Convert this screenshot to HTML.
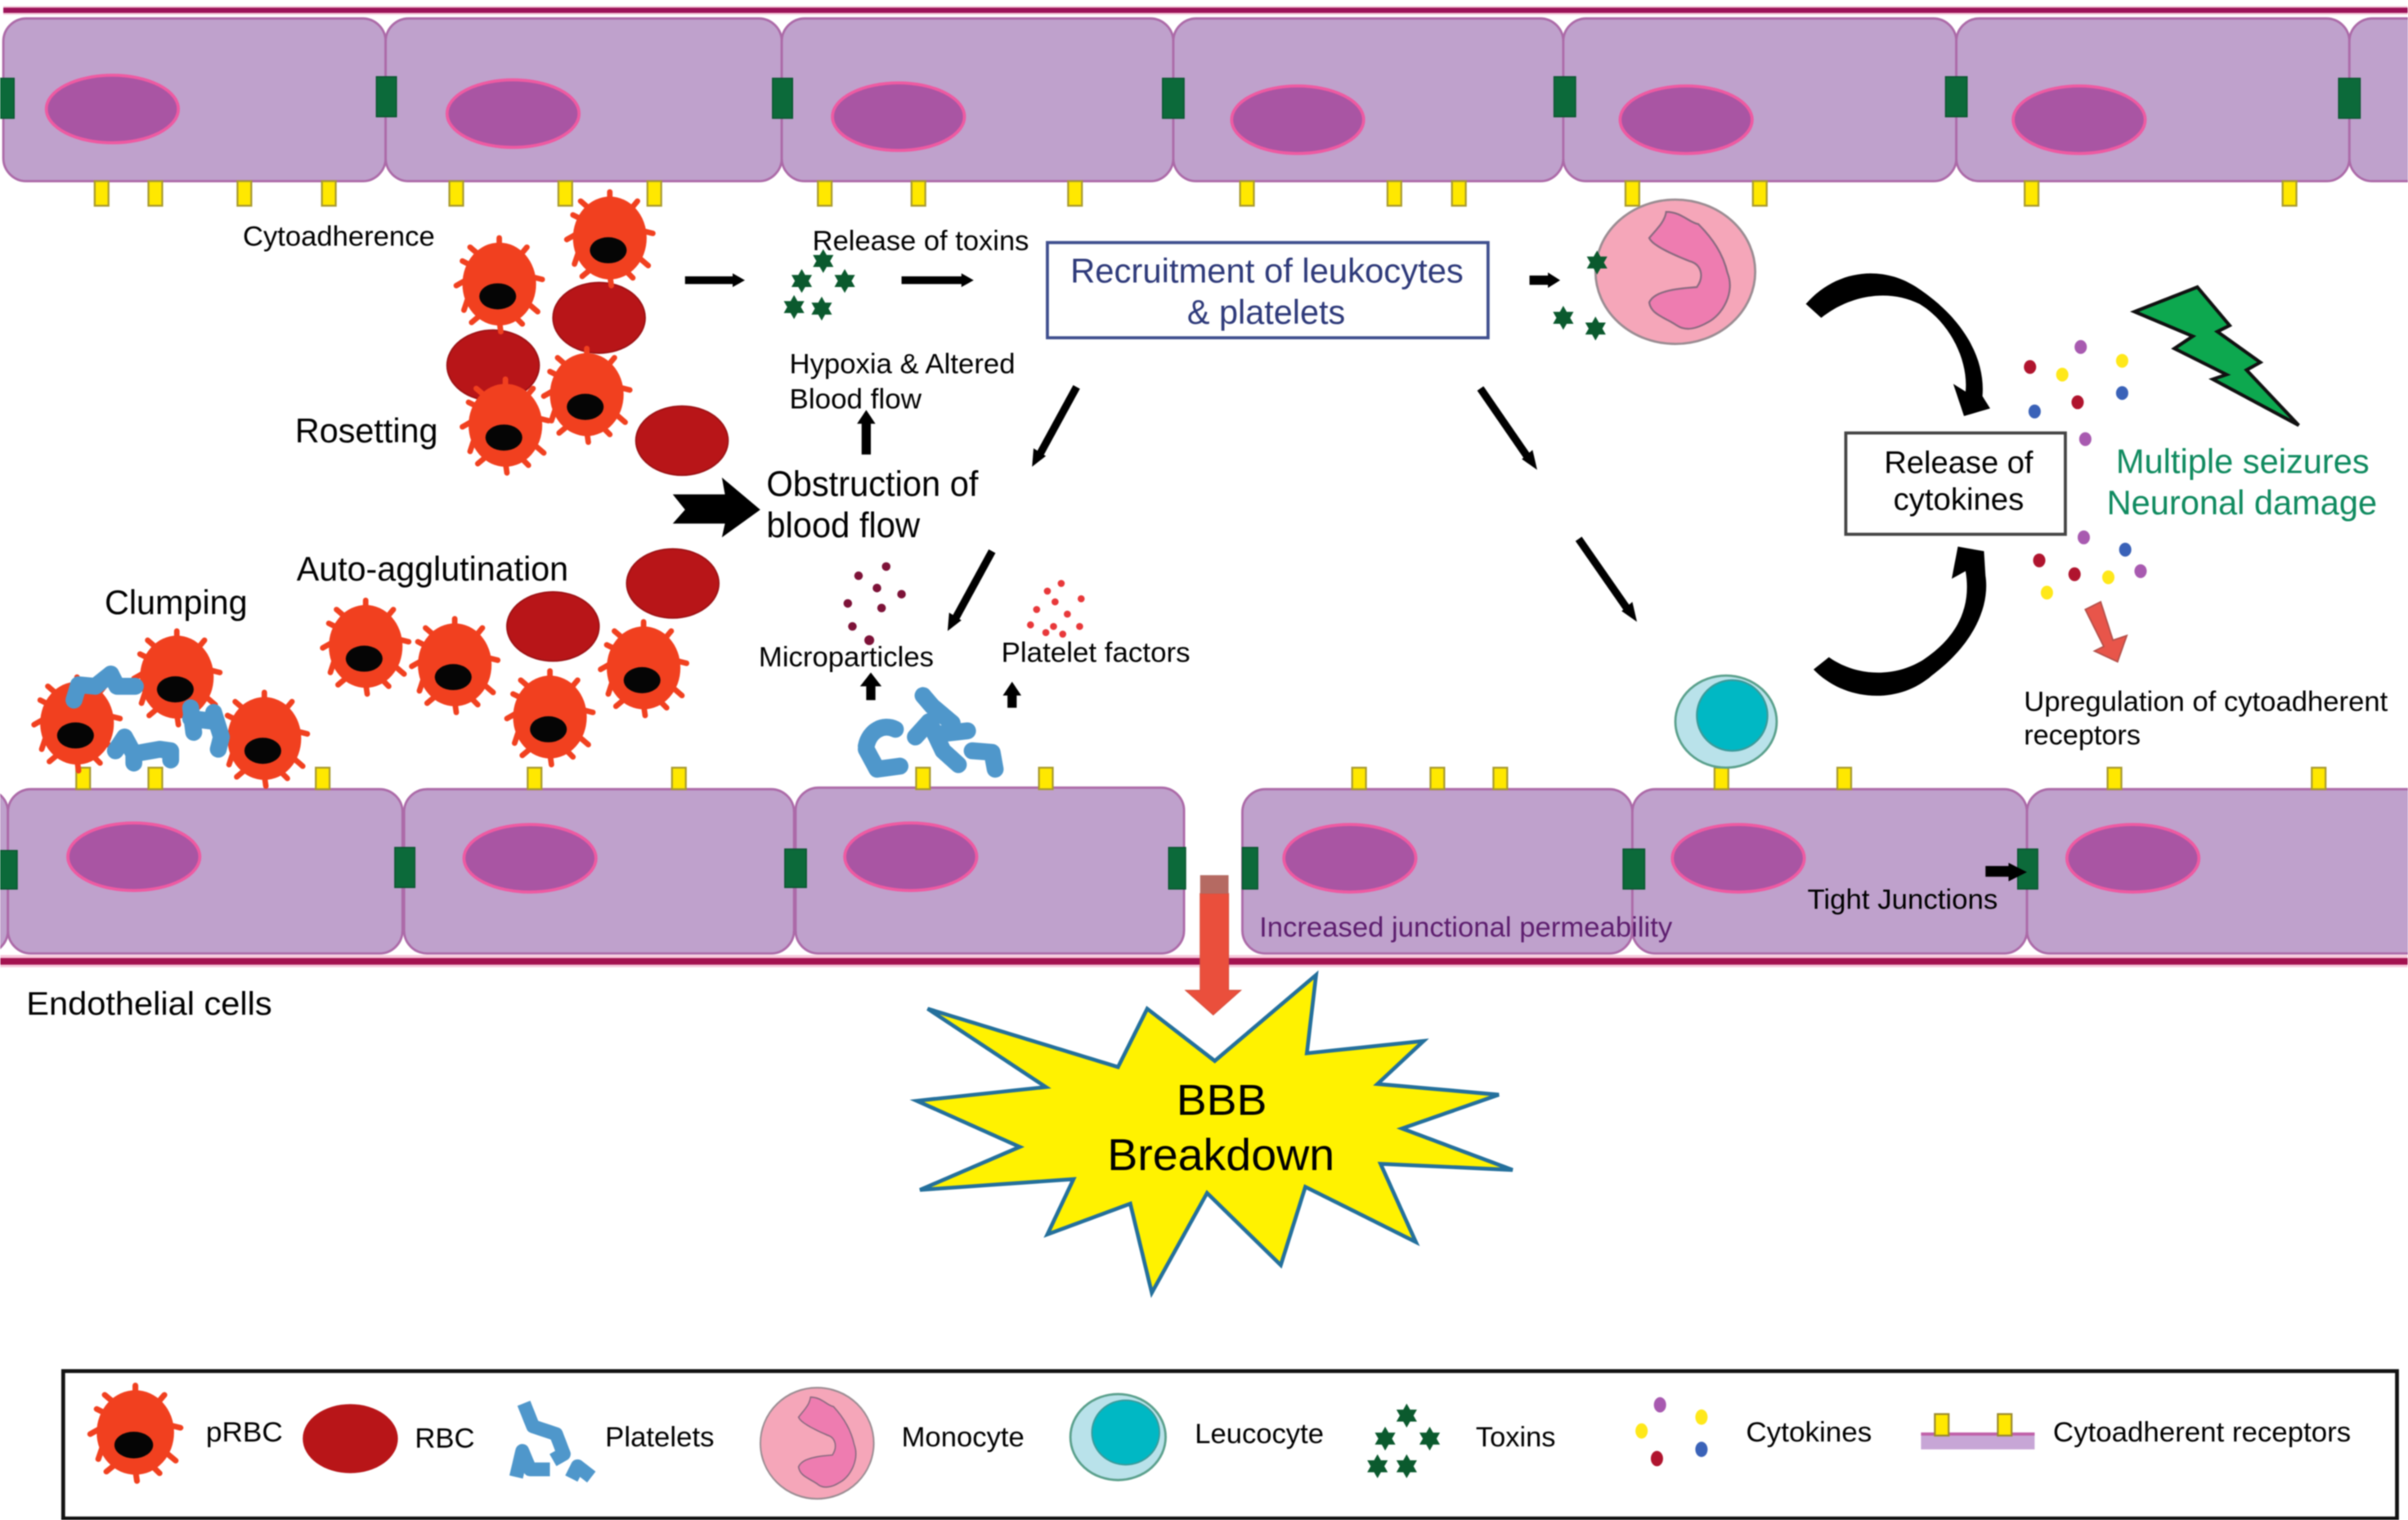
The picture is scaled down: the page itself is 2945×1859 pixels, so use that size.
<!DOCTYPE html>
<html><head><meta charset="utf-8"><style>
html,body{margin:0;padding:0;background:#fff}
svg{display:block;filter:blur(.7px)}
text{font-family:"Liberation Sans",sans-serif;fill:#000}
</style></head><body>
<svg xmlns="http://www.w3.org/2000/svg" width="2945" height="1859" viewBox="0 0 1568 990">
<defs>
<g id="prbc">
<g stroke="#f1401f" stroke-width="3.600" stroke-linecap="round" fill="none">
<path d="M0,-22 V-30"/><path d="M-12,-18 L-19,-24"/><path d="M13,-18 L18,-24"/><path d="M20,-5 L28,-3"/><path d="M18,12 L25,18"/><path d="M9,20 L15,26"/><path d="M0,24 L1,31"/><path d="M-12,20 L-18,25"/><path d="M-20,8 L-23,17"/><path d="M-21,-3 L-28,1"/><path d="M-18,-12 L-24,-15"/>
</g>
<ellipse cx="0" cy="0" rx="24" ry="27" fill="#f1401f"/>
<ellipse cx="-1" cy="8" rx="12" ry="8.500" fill="#050505"/>
</g>
<g id="star"><path d="M0,-7 L2,-3.500 L6,-3.500 L4,0 L6,3.500 L2,3.500 L0,7 L-2,3.500 L-6,3.500 L-4,0 L-6,-3.500 L-2,-3.500 Z" fill="#0b5a2e" stroke="#0b5a2e" stroke-width=".8"/></g>
<g id="mono">
<ellipse cx="1091" cy="177" rx="52" ry="47" fill="#f5a6b9" stroke="#9a8c92" stroke-width="1.500"/>
<path d="M1085,138 C1095,138 1100,145 1106,146 C1115,155 1122,165 1125,178 C1130,190 1122,205 1112,210 C1105,214 1098,216 1092,212 C1085,207 1075,205 1074,197 C1077,190 1090,188 1105,187 C1110,180 1108,172 1100,170 C1090,166 1076,160 1074,155 C1078,150 1084,145 1085,138 Z" fill="#ee7cb0" stroke="#8a6a80" stroke-width="1.200"/>
</g>
</defs>
<rect width="1568" height="990" fill="#fff"/>

<!-- top line -->
<rect x="2" y="4" width="1566" height="5.500" fill="#f3c6d8"/>
<rect x="2" y="5" width="1566" height="3.400" fill="#9c1258"/>

<!-- top cells -->
<g fill="#bfa1cc" stroke="#ac6aa8" stroke-width="1.500">
<rect x="2" y="12" width="249" height="106" rx="15"/>
<rect x="251" y="12" width="258" height="106" rx="15"/>
<rect x="509" y="12" width="255" height="106" rx="15"/>
<rect x="764" y="12" width="254" height="106" rx="15"/>
<rect x="1018" y="12" width="256" height="106" rx="15"/>
<rect x="1274" y="12" width="256" height="106" rx="15"/>
<rect x="1530" y="12" width="60" height="106" rx="15"/>
</g>
<g fill="#a955a3" stroke="#ee5aa2" stroke-width="2">
<ellipse cx="73" cy="71" rx="43" ry="22"/><ellipse cx="334" cy="74" rx="43" ry="22"/><ellipse cx="585" cy="76" rx="43" ry="22"/>
<ellipse cx="845" cy="78" rx="43" ry="22"/><ellipse cx="1098" cy="78" rx="43" ry="22"/><ellipse cx="1354" cy="78" rx="43" ry="22"/>
</g>
<g fill="#0c6a3a" stroke="#0a5530" stroke-width=".8">
<rect x="-4" y="51" width="13" height="26"/><rect x="245" y="50" width="13" height="26"/><rect x="503" y="51" width="13" height="26"/>
<rect x="757" y="51" width="14" height="26"/><rect x="1012" y="50" width="14" height="26"/><rect x="1267" y="50" width="14" height="26"/><rect x="1523" y="51" width="14" height="26"/>
</g>
<g fill="#ffe800" stroke="#a89a30" stroke-width="1.200">
<rect x="61.500" y="118" width="9" height="16"/><rect x="96.500" y="118" width="9" height="16"/><rect x="154.500" y="118" width="9" height="16"/><rect x="209.500" y="118" width="9" height="16"/>
<rect x="292.500" y="118" width="9" height="16"/><rect x="363.500" y="118" width="9" height="16"/><rect x="421.500" y="118" width="9" height="16"/><rect x="532.500" y="118" width="9" height="16"/>
<rect x="593.500" y="118" width="9" height="16"/><rect x="695.500" y="118" width="9" height="16"/><rect x="807.500" y="118" width="9" height="16"/><rect x="903.500" y="118" width="9" height="16"/>
<rect x="945.500" y="118" width="9" height="16"/><rect x="1058.500" y="118" width="9" height="16"/><rect x="1141.500" y="118" width="9" height="16"/><rect x="1318.500" y="118" width="9" height="16"/><rect x="1486.500" y="118" width="9" height="16"/>
</g>

<!-- bottom line -->
<rect x="0" y="622" width="1568" height="8" fill="#f7c9dc"/>
<rect x="0" y="624" width="1568" height="4.300" fill="#a3124f"/>

<!-- bottom cells -->
<g fill="#bfa1cc" stroke="#ac6aa8" stroke-width="1.500">
<rect x="-30" y="514" width="35" height="107" rx="15"/>
<rect x="5" y="514" width="257" height="107" rx="15"/>
<rect x="263" y="514" width="254" height="107" rx="15"/>
<rect x="518" y="513" width="253" height="108" rx="15"/>
<rect x="809" y="514" width="254" height="107" rx="15"/>
<rect x="1063" y="514" width="257" height="107" rx="15"/>
<rect x="1320" y="514" width="270" height="107" rx="15"/>
</g>
<g fill="#a955a3" stroke="#ee5aa2" stroke-width="2">
<ellipse cx="87" cy="558" rx="43" ry="22"/><ellipse cx="345" cy="559" rx="43" ry="22"/><ellipse cx="593" cy="558" rx="43" ry="22"/>
<ellipse cx="879" cy="559" rx="43" ry="22"/><ellipse cx="1132" cy="559" rx="43" ry="22"/><ellipse cx="1389" cy="559" rx="43" ry="22"/>
</g>
<g fill="#0c6a3a" stroke="#0a5530" stroke-width=".8">
<rect x="-2" y="554" width="13" height="25"/><rect x="257" y="552" width="13" height="26"/><rect x="511" y="553" width="14" height="25"/>
<rect x="761" y="552" width="11" height="27"/><rect x="809" y="552" width="10" height="27"/><rect x="1057" y="553" width="14" height="26"/><rect x="1314" y="553" width="13" height="26"/>
</g>
<g fill="#ffe800" stroke="#a89a30" stroke-width="1.200">
<rect x="49.500" y="500" width="9" height="14"/><rect x="96.500" y="500" width="9" height="14"/><rect x="205.500" y="500" width="9" height="14"/><rect x="343.500" y="500" width="9" height="14"/>
<rect x="437.500" y="500" width="9" height="14"/><rect x="596.500" y="500" width="9" height="14"/><rect x="676.500" y="500" width="9" height="14"/><rect x="880.500" y="500" width="9" height="14"/>
<rect x="931.500" y="500" width="9" height="14"/><rect x="972.500" y="500" width="9" height="14"/><rect x="1116.500" y="500" width="9" height="14"/><rect x="1196.500" y="500" width="9" height="14"/>
<rect x="1372.500" y="500" width="9" height="14"/><rect x="1505.500" y="500" width="9" height="14"/>
</g>

<!-- RBCs -->
<g fill="#b81518" stroke="#9c1114" stroke-width="1">
<ellipse cx="390" cy="207" rx="30" ry="23"/><ellipse cx="321" cy="238" rx="30" ry="23"/>
<ellipse cx="444" cy="287" rx="30" ry="22.500"/><ellipse cx="438" cy="380" rx="30" ry="22.500"/><ellipse cx="360" cy="408" rx="30" ry="22.500"/>
</g>
<!-- pRBCs -->
<use href="#prbc" x="397" y="155"/><use href="#prbc" x="325" y="185"/><use href="#prbc" x="382" y="257"/><use href="#prbc" x="329" y="277"/>
<use href="#prbc" x="238" y="421"/><use href="#prbc" x="296" y="433"/><use href="#prbc" x="419" y="435"/><use href="#prbc" x="358" y="467"/>
<use href="#prbc" x="50" y="471"/><use href="#prbc" x="115" y="441"/><use href="#prbc" x="172" y="481"/>

<!-- platelets -->
<g fill="none" stroke="#4f97cb" stroke-linecap="round" stroke-linejoin="round" stroke-width="11">
<path d="M48,456 L51,446 L62,447 L72,439 L76,447 L88,447"/>
<path d="M124,461 L126,477 M124,468 L140,470 M139,464 L144,480 L142,488"/>
<path d="M75,489 L81,480 L87,491 L104,488 L111,489 L111,495 M87,491 L87,497"/>
<path d="M564,486 C566,476 575,471 583,475 M564,488 L571,501 L586,499"/>
<path d="M601,453 L607,460 L620,471 M596,480 L605,470 L614,489 L624,498 M612,478 L630,476"/>
<path d="M633,489 L646,490 L648,501"/>
</g>

<!-- toxins -->
<use href="#star" x="536" y="170"/><use href="#star" x="522" y="183"/><use href="#star" x="550" y="183"/><use href="#star" x="517" y="200"/><use href="#star" x="535" y="201"/>

<!-- monocyte / toxins -->
<use href="#mono"/>
<use href="#star" x="1040" y="171"/><use href="#star" x="1018" y="207"/><use href="#star" x="1039" y="214"/>

<!-- leucocyte -->
<ellipse cx="1124" cy="470" rx="33" ry="30" fill="#b9e2ea" stroke="#5aa08c" stroke-width="1.500"/>
<ellipse cx="1128" cy="466" rx="23" ry="23" fill="#00b8c4" stroke="#3a9a9a" stroke-width="1.200"/>

<!-- microparticles -->
<g fill="#7d1238">
<circle cx="577" cy="369" r="2.800"/><circle cx="559" cy="375" r="2.800"/><circle cx="587" cy="387" r="2.800"/><circle cx="571" cy="383" r="2.800"/><circle cx="552" cy="393" r="2.800"/><circle cx="574" cy="396" r="2.800"/><circle cx="555" cy="408" r="2.800"/><circle cx="566" cy="417" r="3.200"/>
</g>
<g fill="#e8383a">
<circle cx="691" cy="380" r="2.300"/><circle cx="682" cy="385" r="2.300"/><circle cx="704" cy="390" r="2.300"/><circle cx="687" cy="392" r="2.300"/><circle cx="675" cy="397" r="2.300"/><circle cx="695" cy="400" r="2.300"/><circle cx="671" cy="407" r="2.300"/><circle cx="686" cy="408" r="2.300"/><circle cx="703" cy="408" r="2.300"/><circle cx="681" cy="412" r="2.300"/><circle cx="692" cy="413" r="2.300"/>
</g>

<!-- straight arrows -->
<g fill="#000" stroke="none">
<path d="M446,180 H477 V178 L485,182.500 L477,187 V185 H446 Z"/>
<path d="M587,180 H626 V178 L634,182.500 L626,187 V185 H587 Z"/>
<path d="M996,179.500 H1008 V177.500 L1016,182.500 L1008,187.500 V185.500 H996 Z"/>
<path d="M438,322 H472 L470,311 L495,332 L470,350 L472,341 H438 L446,332 Z"/>
<path d="M561,296 V276 H558 L564,267 L570,276 H567 V296 Z"/>
<path d="M564,456 V447 H560 L567,438 L574,447 H570 V456 Z"/>
<path d="M656,461 V453 H653 L659,444 L665,453 H662 V461 Z"/>
<path d="M1293,564 H1308 V562 L1320,568 L1308,574 V571 H1293 Z"/>
</g>
<g stroke="#000" stroke-width="5" fill="none">
<path d="M701,252 L677,296"/><path d="M646,359 L622,403"/><path d="M964,253 L995,298"/><path d="M1028,351 L1060,397"/>
</g>
<g fill="#000">
<path d="M672,304 L673,292 L681,297 Z"/><path d="M617,411 L618,399 L626,404 Z"/><path d="M1001,306 L991,299 L998,293 Z"/><path d="M1066,405 L1056,398 L1063,392 Z"/>
</g>

<!-- curved arrows -->
<path d="M1176,198 C1195,176 1225,172 1248,187 C1280,208 1293,235 1291,258 L1296,266 L1279,271 L1272,250 L1280,255 C1282,235 1270,210 1250,198 C1230,188 1205,192 1186,207 Z" fill="#000"/>
<path d="M1181,436 C1200,456 1235,460 1258,440 C1285,420 1296,395 1293,375 L1292,359 L1275,356 L1271,377 L1280,372 C1284,395 1275,415 1252,430 C1232,442 1208,440 1191,428 Z" fill="#000"/>

<!-- lightning -->
<path d="M1431,187 L1452,212 L1444,216 L1472,236 L1463,241 L1497,277 L1441,247 L1450,244 L1416,227 L1428,219 L1390,203 Z" fill="#0da84f" stroke="#111" stroke-width="2.200" stroke-linejoin="miter"/>

<!-- cytokines -->
<g>
<ellipse cx="1322" cy="239" rx="4" ry="4.500" fill="#b0142e"/><ellipse cx="1343" cy="244" rx="4" ry="4.500" fill="#ffe81a"/><ellipse cx="1355" cy="226" rx="4" ry="4.500" fill="#a85ab0"/><ellipse cx="1382" cy="235" rx="4" ry="4.500" fill="#ffe81a"/>
<ellipse cx="1382" cy="256" rx="4" ry="4.500" fill="#3a62b8"/><ellipse cx="1353" cy="262" rx="4" ry="4.500" fill="#b0142e"/><ellipse cx="1325" cy="268" rx="4" ry="4.500" fill="#3a62b8"/><ellipse cx="1358" cy="286" rx="4" ry="4.500" fill="#a85ab0"/>
<ellipse cx="1357" cy="350" rx="4" ry="4.500" fill="#a85ab0"/><ellipse cx="1384" cy="358" rx="4" ry="4.500" fill="#3a62b8"/><ellipse cx="1328" cy="365" rx="4" ry="4.500" fill="#b0142e"/><ellipse cx="1351" cy="374" rx="4" ry="4.500" fill="#b0142e"/>
<ellipse cx="1373" cy="376" rx="4" ry="4.500" fill="#ffe81a"/><ellipse cx="1394" cy="372" rx="4" ry="4.500" fill="#a85ab0"/><ellipse cx="1333" cy="386" rx="4" ry="4.500" fill="#ffe81a"/>
</g>
<path d="M1358,397 L1368,392 L1376,417 L1385,414 L1379,431 L1364,424 L1370,421 Z" fill="#e8554a" stroke="#b5504a" stroke-width="1"/>

<!-- starburst -->
<path d="M604,657 L728,695 L747,657 L791,691 L857,635 L851,686 L927,678 L897,706 L976,713 L913,735 L985,762 L899,758 L922,809 L850,773 L834,824 L786,777 L750,842 L736,784 L682,804 L699,768 L599,775 L664,747 L597,717 L681,708 Z" fill="#fff200" stroke="#24709c" stroke-width="2.500" stroke-linejoin="miter"/>

<!-- red arrow -->
<path d="M781.500,582 H800 V645 H808 L790,661 L772,645 H781.500 Z" fill="#ea4f3c" stroke="#d8503e" stroke-width=".6"/>
<rect x="781.500" y="570" width="18.500" height="12" fill="#b56a62"/>

<!-- boxes -->
<rect x="682" y="158" width="287" height="62" fill="#fff" stroke="#3f4f8e" stroke-width="2"/>
<rect x="1202" y="282" width="143" height="66" fill="#fff" stroke="#444" stroke-width="2"/>

<!-- labels -->
<text x="158" y="160" font-size="18" textLength="125" lengthAdjust="spacingAndGlyphs">Cytoadherence</text>
<text x="529" y="163" font-size="18" textLength="141" lengthAdjust="spacingAndGlyphs">Release of toxins</text>
<text x="697" y="184" font-size="22" textLength="256" lengthAdjust="spacingAndGlyphs" style="fill:#2e3a7a">Recruitment of leukocytes</text>
<text x="773" y="211" font-size="22" textLength="103" lengthAdjust="spacingAndGlyphs" style="fill:#2e3a7a">&amp; platelets</text>
<text x="514" y="243" font-size="18" textLength="147" lengthAdjust="spacingAndGlyphs">Hypoxia &amp; Altered</text>
<text x="514" y="266" font-size="18" textLength="86" lengthAdjust="spacingAndGlyphs">Blood flow</text>
<text x="192" y="288" font-size="22" textLength="93" lengthAdjust="spacingAndGlyphs">Rosetting</text>
<text x="499" y="323" font-size="23" textLength="138" lengthAdjust="spacingAndGlyphs">Obstruction of</text>
<text x="499" y="350" font-size="23" textLength="100" lengthAdjust="spacingAndGlyphs">blood flow</text>
<text x="193" y="378" font-size="22" textLength="177" lengthAdjust="spacingAndGlyphs">Auto-agglutination</text>
<text x="68" y="400" font-size="22" textLength="93" lengthAdjust="spacingAndGlyphs">Clumping</text>
<text x="494" y="434" font-size="18" textLength="114" lengthAdjust="spacingAndGlyphs">Microparticles</text>
<text x="652" y="431" font-size="18" textLength="123" lengthAdjust="spacingAndGlyphs">Platelet factors</text>
<text x="1227" y="308" font-size="20" textLength="97" lengthAdjust="spacingAndGlyphs">Release of</text>
<text x="1233" y="332" font-size="20" textLength="85" lengthAdjust="spacingAndGlyphs">cytokines</text>
<text x="1378" y="308" font-size="22" textLength="165" lengthAdjust="spacingAndGlyphs" style="fill:#0f8a5f">Multiple seizures</text>
<text x="1372" y="335" font-size="22" textLength="176" lengthAdjust="spacingAndGlyphs" style="fill:#0f8a5f">Neuronal damage</text>
<text x="1318" y="463" font-size="18" textLength="237" lengthAdjust="spacingAndGlyphs">Upregulation of cytoadherent</text>
<text x="1318" y="485" font-size="18" textLength="76" lengthAdjust="spacingAndGlyphs">receptors</text>
<text x="1177" y="592" font-size="18" textLength="124" lengthAdjust="spacingAndGlyphs">Tight Junctions</text>
<text x="820" y="610" font-size="18" textLength="269" lengthAdjust="spacingAndGlyphs" style="fill:#5d1e6e">Increased junctional permeability</text>
<text x="17" y="661" font-size="21" textLength="160" lengthAdjust="spacingAndGlyphs">Endothelial cells</text>
<text x="766" y="726" font-size="28" textLength="59" lengthAdjust="spacingAndGlyphs">BBB</text>
<text x="721" y="762" font-size="29" textLength="148" lengthAdjust="spacingAndGlyphs">Breakdown</text>

<!-- legend -->
<rect x="41" y="893" width="1520" height="96" fill="#fff" stroke="#111" stroke-width="2.500"/>
<use href="#prbc" transform="translate(88,933) scale(1.05,1.02)"/>
<ellipse cx="228" cy="937" rx="31" ry="22.500" fill="#b81518"/>
<g fill="none" stroke="#4f97cb" stroke-width="9" stroke-linejoin="round" stroke-linecap="butt">
<path d="M341,914 L347,929 L362,934 L367,947 L360,951"/>
<path d="M336,962 L340,945 L345,957 L358,957 M372,963 L376,955 L385,962"/>
</g>
<use href="#mono" transform="translate(532,940) scale(.71,.77) translate(-1091,-177)"/>
<ellipse cx="728" cy="936" rx="31" ry="28" fill="#b9e2ea" stroke="#5aa08c" stroke-width="1.500"/>
<ellipse cx="733" cy="933" rx="22" ry="21" fill="#00b8c4" stroke="#3a9a9a"/>
<use href="#star" x="916" y="922"/><use href="#star" x="902" y="937"/><use href="#star" x="931" y="937"/><use href="#star" x="897" y="955"/><use href="#star" x="916" y="955"/>
<ellipse cx="1081" cy="915" rx="4" ry="5" fill="#a85ab0"/><ellipse cx="1108" cy="923" rx="4" ry="5" fill="#ffe81a"/><ellipse cx="1069" cy="932" rx="4" ry="5" fill="#ffe81a"/><ellipse cx="1108" cy="944" rx="4" ry="5" fill="#3a62b8"/><ellipse cx="1079" cy="950" rx="4" ry="5" fill="#b0142e"/>
<rect x="1251" y="933" width="74" height="11" fill="#c7a6d6"/>
<rect x="1251" y="933" width="74" height="2" fill="#c060a8"/>
<rect x="1260" y="921" width="9" height="14" fill="#ffe800" stroke="#9a8a30" stroke-width="1.200"/>
<rect x="1301" y="921" width="9" height="14" fill="#ffe800" stroke="#9a8a30" stroke-width="1.200"/>
<text x="134" y="939" font-size="18" textLength="50" lengthAdjust="spacingAndGlyphs">pRBC</text>
<text x="270" y="943" font-size="18" textLength="39" lengthAdjust="spacingAndGlyphs">RBC</text>
<text x="394" y="942" font-size="18" textLength="71" lengthAdjust="spacingAndGlyphs">Platelets</text>
<text x="587" y="942" font-size="18" textLength="80" lengthAdjust="spacingAndGlyphs">Monocyte</text>
<text x="778" y="940" font-size="18" textLength="84" lengthAdjust="spacingAndGlyphs">Leucocyte</text>
<text x="961" y="942" font-size="18" textLength="52" lengthAdjust="spacingAndGlyphs">Toxins</text>
<text x="1137" y="939" font-size="18" textLength="82" lengthAdjust="spacingAndGlyphs">Cytokines</text>
<text x="1337" y="939" font-size="18" textLength="194" lengthAdjust="spacingAndGlyphs">Cytoadherent receptors</text>
</svg>
</body></html>
